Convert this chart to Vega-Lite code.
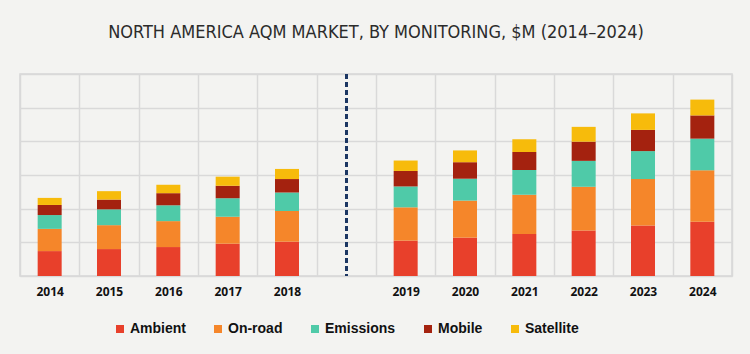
{
  "$schema": "https://vega.github.io/schema/vega-lite/v6.json",
  "autosize": {"type": "none"},
  "width": 712,
  "height": 202,
  "padding": {"left": 20, "top": 74, "right": 18, "bottom": 78},
  "background": "#f3f3f1",
  "title": {
    "text": "NORTH AMERICA AQM MARKET, BY MONITORING, $M (2014–2024)",
    "font": "DejaVu Sans Condensed, Roboto Condensed, Liberation Sans Narrow, Roboto, sans-serif",
    "fontSize": 18,
    "fontWeight": "normal",
    "color": "#2b2b2b",
    "anchor": "middle",
    "frame": "group",
    "offset": 31
  },
  "data": {
    "values": [
      {"year": "2014", "segment": "Ambient", "value": 74},
      {"year": "2014", "segment": "On-road", "value": 66},
      {"year": "2014", "segment": "Emissions", "value": 41},
      {"year": "2014", "segment": "Mobile", "value": 30},
      {"year": "2014", "segment": "Satellite", "value": 21},
      {"year": "2015", "segment": "Ambient", "value": 80},
      {"year": "2015", "segment": "On-road", "value": 71},
      {"year": "2015", "segment": "Emissions", "value": 47},
      {"year": "2015", "segment": "Mobile", "value": 29},
      {"year": "2015", "segment": "Satellite", "value": 25},
      {"year": "2016", "segment": "Ambient", "value": 86},
      {"year": "2016", "segment": "On-road", "value": 77},
      {"year": "2016", "segment": "Emissions", "value": 47},
      {"year": "2016", "segment": "Mobile", "value": 36},
      {"year": "2016", "segment": "Satellite", "value": 25},
      {"year": "2017", "segment": "Ambient", "value": 96},
      {"year": "2017", "segment": "On-road", "value": 80},
      {"year": "2017", "segment": "Emissions", "value": 55},
      {"year": "2017", "segment": "Mobile", "value": 37},
      {"year": "2017", "segment": "Satellite", "value": 27},
      {"year": "2018", "segment": "Ambient", "value": 102},
      {"year": "2018", "segment": "On-road", "value": 91},
      {"year": "2018", "segment": "Emissions", "value": 55},
      {"year": "2018", "segment": "Mobile", "value": 40},
      {"year": "2018", "segment": "Satellite", "value": 30},
      {"year": "2019", "segment": "Ambient", "value": 105},
      {"year": "2019", "segment": "On-road", "value": 99},
      {"year": "2019", "segment": "Emissions", "value": 62},
      {"year": "2019", "segment": "Mobile", "value": 46},
      {"year": "2019", "segment": "Satellite", "value": 31},
      {"year": "2020", "segment": "Ambient", "value": 114},
      {"year": "2020", "segment": "On-road", "value": 110},
      {"year": "2020", "segment": "Emissions", "value": 65},
      {"year": "2020", "segment": "Mobile", "value": 49},
      {"year": "2020", "segment": "Satellite", "value": 35},
      {"year": "2021", "segment": "Ambient", "value": 125},
      {"year": "2021", "segment": "On-road", "value": 116},
      {"year": "2021", "segment": "Emissions", "value": 74},
      {"year": "2021", "segment": "Mobile", "value": 53},
      {"year": "2021", "segment": "Satellite", "value": 38},
      {"year": "2022", "segment": "Ambient", "value": 135},
      {"year": "2022", "segment": "On-road", "value": 130},
      {"year": "2022", "segment": "Emissions", "value": 77},
      {"year": "2022", "segment": "Mobile", "value": 57},
      {"year": "2022", "segment": "Satellite", "value": 44},
      {"year": "2023", "segment": "Ambient", "value": 150},
      {"year": "2023", "segment": "On-road", "value": 138},
      {"year": "2023", "segment": "Emissions", "value": 83},
      {"year": "2023", "segment": "Mobile", "value": 63},
      {"year": "2023", "segment": "Satellite", "value": 49},
      {"year": "2024", "segment": "Ambient", "value": 161},
      {"year": "2024", "segment": "On-road", "value": 153},
      {"year": "2024", "segment": "Emissions", "value": 94},
      {"year": "2024", "segment": "Mobile", "value": 69},
      {"year": "2024", "segment": "Satellite", "value": 47}
    ]
  },
  "config": {
    "view": {"stroke": "#d6d6d6", "strokeWidth": 1.5},
    "axis": {"gridColor": "#d9d9d9", "gridWidth": 1.5}
  },
  "layer": [
    {
      "transform": [
        {"calculate": "indexof(['Ambient','On-road','Emissions','Mobile','Satellite'], datum.segment)", "as": "stackRank"}
      ],
      "mark": {"type": "bar", "size": 24},
      "encoding": {
        "x": {
          "field": "year",
          "type": "nominal",
          "scale": {
            "domain": ["2014", "2015", "2016", "2017", "2018", " ", "2019", "2020", "2021", "2022", "2023", "2024"],
            "paddingInner": 0,
            "paddingOuter": 0
          },
          "axis": {
            "title": null,
            "labelAngle": 0,
            "grid": true,
            "tickBand": "extent",
            "ticks": false,
            "domain": false,
            "labelFont": "Open Sans",
            "labelFontWeight": "bold",
            "labelFontSize": 12,
            "labelColor": "#111111",
            "labelPadding": 10
          }
        },
        "y": {
          "field": "value",
          "type": "quantitative",
          "stack": "zero",
          "scale": {"domain": [0, 600], "nice": false},
          "axis": {
            "title": null,
            "labels": false,
            "ticks": false,
            "domain": false,
            "grid": true,
            "values": [0, 100, 200, 300, 400, 500, 600]
          }
        },
        "color": {
          "field": "segment",
          "type": "nominal",
          "scale": {
            "domain": ["Ambient", "On-road", "Emissions", "Mobile", "Satellite"],
            "range": ["#e8402b", "#f5862a", "#4fcaa8", "#a4220f", "#f7bb0b"]
          },
          "legend": {
            "title": null,
            "orient": "none",
            "direction": "horizontal",
            "legendX": 93,
            "legendY": 248,
            "symbolType": "square",
            "symbolSize": 64,
            "symbolStrokeWidth": 0,
            "labelFont": "Liberation Sans",
            "labelFontWeight": "bold",
            "labelFontSize": 14,
            "labelColor": "#111111",
            "labelOffset": 3,
            "columnPadding": 25
          }
        },
        "order": {"field": "stackRank", "type": "quantitative", "sort": "ascending"}
      }
    },
    {
      "mark": {"type": "rule", "color": "#1c3763", "strokeWidth": 2, "strokeDash": [5, 3]},
      "encoding": {
        "x": {"datum": " ", "type": "nominal"}
      }
    }
  ]
}
